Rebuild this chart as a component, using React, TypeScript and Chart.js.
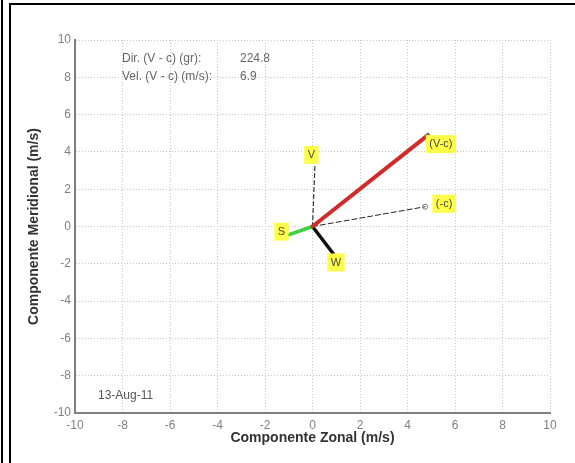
import React, { useEffect, useRef } from "react";
import { Chart, registerables } from "chart.js";

Chart.register(...registerables);

// Vector components (m/s): zonal (u) and meridional (v)
const vectorNames = ["(V-c)", "(-c)", "V", "S", "W"];
const vectorU = [4.86, 4.74, 0.12, -1.35, 0.9];
const vectorV = [4.9, 1.06, 3.84, -0.6, -1.5];

// Axis ticks
const xTicks = [-10, -8, -6, -4, -2, 0, 2, 4, 6, 8, 10];
const yTicks = [-10, -8, -6, -4, -2, 0, 2, 4, 6, 8, 10];

// Summary text
const infoLabels = ["Dir. (V - c) (gr):", "Vel. (V - c) (m/s):"];
const infoValues = ["224.8", "6.9"];
const dateLabel = "13-Aug-11";

const xTitle = "Componente Zonal (m/s)";
const yTitle = "Componente Meridional (m/s)";

// Line styles for each vector
const vectorStyles = [
  { color: "#d02a2a", width: 4, dash: [] as number[], tip: "triangle" },
  { color: "#222222", width: 1, dash: [5, 3], tip: "circle" },
  { color: "#333333", width: 1.2, dash: [4, 3], tip: "" },
  { color: "#3fd03f", width: 3.5, dash: [] as number[], tip: "" },
  { color: "#111111", width: 3.5, dash: [] as number[], tip: "" },
];

// Pixel offsets of each yellow tag from its vector tip
const tagOffsets = [
  [13, 9],
  [19, -3],
  [-4, 0],
  [1, -6],
  [2, 8],
];

const FONT = "'Liberation Sans', Arial, sans-serif";

const decorPlugin = {
  id: "decor",
  beforeDraw(chart: any) {
    const ctx = chart.ctx;
    ctx.save();
    ctx.fillStyle = "#ffffff";
    ctx.fillRect(0, 0, chart.width, chart.height);
    ctx.restore();
  },
  afterDatasetsDraw(chart: any) {
    const ctx = chart.ctx;
    const xs = chart.scales.x;
    const ys = chart.scales.y;
    ctx.save();

    // yellow tags at vector tips
    ctx.font = `11px ${FONT}`;
    ctx.textAlign = "center";
    ctx.textBaseline = "middle";
    vectorNames.forEach((name, i) => {
      const px = xs.getPixelForValue(vectorU[i]) + tagOffsets[i][0];
      const py = ys.getPixelForValue(vectorV[i]) + tagOffsets[i][1];
      const w = ctx.measureText(name).width + 7;
      const h = 18;
      ctx.fillStyle = "#ffff4a";
      ctx.fillRect(px - w / 2, py - h / 2, w, h);
      ctx.fillStyle = "#444444";
      ctx.fillText(name, px, py);
    });

    // summary text
    ctx.font = `12px ${FONT}`;
    ctx.textAlign = "left";
    ctx.fillStyle = "#666666";
    infoLabels.forEach((t, i) => {
      const y = 59 + i * 18;
      ctx.fillText(t, 122, y);
      ctx.fillText(infoValues[i], 240, y);
    });

    ctx.font = `12px ${FONT}`;
    ctx.fillStyle = "#555555";
    ctx.fillText(dateLabel, 98, 396);

    // figure frame
    ctx.strokeStyle = "#000000";
    ctx.lineWidth = 2;
    ctx.beginPath();
    ctx.moveTo(2, 0);
    ctx.lineTo(2, chart.height);
    ctx.moveTo(10, chart.height);
    ctx.lineTo(10, 4);
    ctx.lineTo(chart.width, 4);
    ctx.stroke();
    ctx.restore();
  },
};

export default function App() {
  const canvasRef = useRef<HTMLCanvasElement | null>(null);

  useEffect(() => {
    if (!canvasRef.current) return;
    const datasets = vectorNames.map((name, i) => {
      const st = vectorStyles[i];
      return {
        label: name,
        data: [
          { x: 0, y: 0 },
          { x: vectorU[i], y: vectorV[i] },
        ],
        showLine: true,
        borderColor: st.color,
        borderWidth: st.width,
        borderDash: st.dash,
        borderCapStyle: "round" as const,
        pointRadius: [0, st.tip ? 2.5 : 0],
        pointStyle: st.tip || "circle",
        pointBorderColor: "#777777",
        pointBackgroundColor: "rgba(0,0,0,0)",
        pointBorderWidth: 1,
      };
    });

    const tickFont = { family: FONT, size: 12 };
    const titleFont = { family: FONT, size: 14, weight: "bold" as const };

    const chart = new Chart(canvasRef.current, {
      type: "scatter",
      data: { datasets },
      plugins: [decorPlugin],
      options: {
        animation: false,
        responsive: false,
        maintainAspectRatio: false,
        layout: { padding: { left: 0, top: 40, right: 25, bottom: 0 } },
        plugins: { legend: { display: false }, tooltip: { enabled: false } },
        scales: {
          x: {
            type: "linear",
            min: -10,
            max: 10,
            afterBuildTicks: (s: any) => {
              s.ticks = xTicks.map((v) => ({ value: v }));
            },
            afterFit: (s: any) => {
              s.height = 50;
            },
            grid: { color: "#c8c8c8", lineWidth: 1, drawTicks: false },
            border: { display: true, color: "#808080", width: 2, dash: [1, 2] },
            ticks: { color: "#808080", font: tickFont, padding: 5, maxRotation: 0 },
            title: {
              display: true,
              text: xTitle,
              color: "#333333",
              font: titleFont,
              padding: { top: 0, bottom: 16 },
            },
          },
          y: {
            type: "linear",
            min: -10,
            max: 10,
            afterBuildTicks: (s: any) => {
              s.ticks = yTicks.map((v) => ({ value: v }));
            },
            afterFit: (s: any) => {
              s.width = 75;
            },
            grid: { color: "#c8c8c8", lineWidth: 1, drawTicks: false },
            border: { display: true, color: "#808080", width: 2, dash: [1, 2] },
            ticks: { color: "#808080", font: tickFont, padding: 4 },
            title: {
              display: true,
              text: yTitle,
              color: "#333333",
              font: titleFont,
              padding: { top: 26, bottom: 0 },
            },
          },
        },
      },
    });
    return () => chart.destroy();
  }, []);

  return (
    <div style={{ position: "fixed", left: 0, top: 0, width: 575, height: 463, background: "#fff" }}>
      <canvas ref={canvasRef} width={575} height={463} style={{ display: "block", width: 575, height: 463 }} />
    </div>
  );
}
